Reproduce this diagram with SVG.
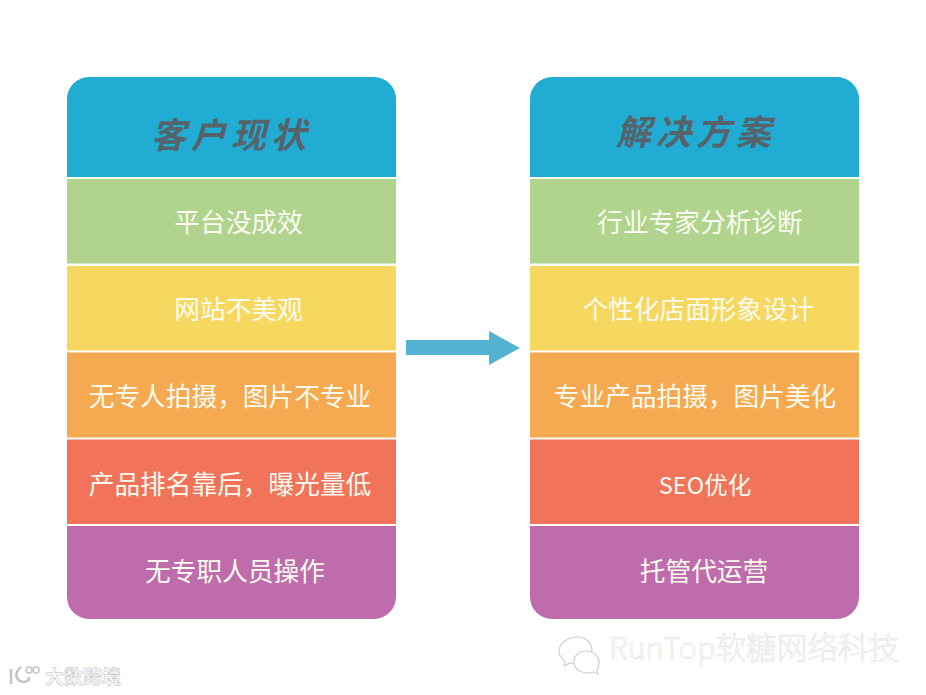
<svg xmlns="http://www.w3.org/2000/svg" width="926" height="695" viewBox="0 0 926 695">
<style>
.lbl{font-family:"Noto Sans CJK SC","Noto Sans",sans-serif;font-size:25.700px;fill:#fbfbf0;text-anchor:middle}
.ttl{font-family:"Noto Sans CJK SC",sans-serif;font-size:35px;font-weight:700;font-style:italic;fill:#56636b;text-anchor:middle;letter-spacing:5px}
.wm{font-family:"Noto Sans CJK SC","Liberation Sans",sans-serif;fill:#fcfcfc;stroke:#dcdcdc;stroke-width:.5;font-weight:300}
.ic{fill:#fff;stroke:#cfcfcf;stroke-width:1.200}
.c1{fill:#21acd3}.c2{fill:#b0d48e}.c3{fill:#f6d860}.c4{fill:#f5aa51}.c5{fill:#f1745a}.c6{fill:#bf6cad}
</style>
<rect width="926" height="695" fill="#fff"/>
<g id="left-panel">
<g id="left-header"><path class="c1" d="M67 177V99a22 22 0 0 1 22-22H374a22 22 0 0 1 22 22V177Z"/><text class="ttl" x="231" y="148">客户现状</text></g>
<g id="left-1"><rect class="c2" x="67" y="179" width="329" height="84.500"/><text class="lbl" x="238.500" y="232">平台没成效</text></g>
<g id="left-2"><rect class="c3" x="67" y="266" width="329" height="84.500"/><text class="lbl" x="238.500" y="319">网站不美观</text></g>
<g id="left-3"><rect class="c4" x="67" y="352.500" width="329" height="85"/><text class="lbl" x="230" y="406">无专人拍摄，图片不专业</text></g>
<g id="left-4"><rect class="c5" x="67" y="439.500" width="329" height="84.500"/><text class="lbl" x="230" y="494">产品排名靠后，曝光量低</text></g>
<g id="left-5"><path class="c6" d="M67 526H396V597a22 22 0 0 1-22 22H89a22 22 0 0 1-22-22Z"/><text class="lbl" x="235" y="581">无专职人员操作</text></g>
</g>
<g id="right-panel">
<g id="right-header"><path class="c1" d="M530 177V99a22 22 0 0 1 22-22H837a22 22 0 0 1 22 22V177Z"/><text class="ttl" x="696" y="145">解决方案</text></g>
<g id="right-1"><rect class="c2" x="530" y="179" width="329" height="84.500"/><text class="lbl" x="700" y="232">行业专家分析诊断</text></g>
<g id="right-2"><rect class="c3" x="530" y="266" width="329" height="84.500"/><text class="lbl" x="698" y="319">个性化店面形象设计</text></g>
<g id="right-3"><rect class="c4" x="530" y="352.500" width="329" height="85"/><text class="lbl" x="695" y="406">专业产品拍摄，图片美化</text></g>
<g id="right-4"><rect class="c5" x="530" y="439.500" width="329" height="84.500"/><text class="lbl" x="705" y="494" style="font-size:23.500px">SEO优化</text></g>
<g id="right-5"><path class="c6" d="M530 526H859V597a22 22 0 0 1-22 22H552a22 22 0 0 1-22-22Z"/><text class="lbl" x="704" y="581">托管代运营</text></g>
</g>
<g id="connectors">
<polygon points="406,340 489,340 489,331 520,348 489,365 489,355 406,355" fill="#54b2d2"/>
</g>
<g id="watermark-right">
<path class="ic" d="M578 637c-10 0-19 6-19 14 0 4 3 8 6 10l-1 5 6-3 5 1c0-8 8-13 17-13 0-8-6-14-14-14Z"/>
<path class="ic" d="M585 651c8 0 14 5 14 11s-2 8-2 8l1 4-5-2c-8 3-17-1-19-8-1-7 4-13 11-13Z"/>
<text class="wm" x="609" y="659" font-size="30.600">RunTop软糖网络科技</text>
</g>
<g id="watermark-left">
<path d="M11 669V684M21 667C15 672 14 680 23 682C27 682 29 680 29 677" fill="none" stroke="#c4c4c4" stroke-width="2.500"/>
<circle cx="29" cy="670" r="3" fill="#fff" stroke="#c4c4c4" stroke-width="1.500"/>
<circle cx="36" cy="670" r="3" fill="#fff" stroke="#c4c4c4" stroke-width="1.500"/>
<text class="wm" x="45" y="684" font-size="19" style="font-weight:700;stroke:#bdbdbd">大数跨境</text>
</g>
</svg>
